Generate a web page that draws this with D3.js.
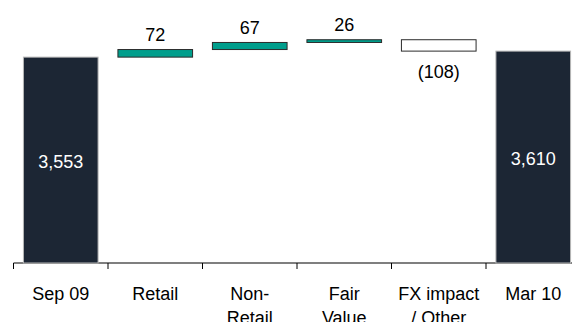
<!DOCTYPE html>
<html>
<head>
<meta charset="utf-8">
<script src="https://cdn.jsdelivr.net/npm/d3@7"></script>
<style>
  body { margin: 0; background: #fff; }
  svg { display: block; font-family: "Liberation Sans", Arial, sans-serif; }
</style>
</head>
<body>
<div id="chart"></div>
<script>
// waterfall data
const categories = ["Sep 09", "Retail", "Non-Retail", "Fair Value", "FX impact / Other", "Mar 10"];
const axisLabels = [["Sep 09"], ["Retail"], ["Non-", "Retail"], ["Fair", "Value"], ["FX impact", "/ Other"], ["Mar 10"]];
const values = [3553, 72, 67, 26, -108, 3610];
const kinds = ["total", "up", "up", "up", "down", "total"];
const valueLabels = ["3,553", "72", "67", "26", "(108)", "3,610"];

const W = 572, H = 322;
const svg = d3.select("#chart").append("svg").attr("width", W).attr("height", H);

// running totals for the floating bars
let run = 0;
const bars = categories.map((c, i) => {
    let y0, y1;
    if (kinds[i] == "total") { y0 = 1600; y1 = values[i]; run = values[i]; }
    else { y0 = run; y1 = run + values[i]; run = y1; }
    return {cat: c, kind: kinds[i], lo: Math.min(y0, y1), hi: Math.max(y0, y1), label: valueLabels[i]};
});

const yScale = d3.scaleLinear().domain([1600, 4000]).range([263, 10]);

const x0 = 13.5, step = 94.5;
const xAxis = d3.scaleBand().domain(categories).range([x0, x0 + 6 * step]);
const xBar = d3.scaleBand().domain(categories).range([x0, x0 + 6 * step]).paddingInner(0.21).paddingOuter(0.105);

const fills = {total: "#1c2634", up: "#009e8c", down: "#ffffff"};
const strokes = {total: "#b8b8b8", up: "#2b2b2b", down: "#2b2b2b"};

// axis line + ticks (drawn first, the last bar sits over it)
const axisG = svg.append("g");
axisG.append("line")
    .attr("x1", xAxis.range()[0]).attr("x2", xAxis.range()[1])
    .attr("y1", yScale(1600)).attr("y2", yScale(1600))
    .attr("stroke", "#000").attr("stroke-width", 1.2);
axisG.selectAll(".tick")
    .data(categories.concat(["end"]))
    .enter().append("line")
    .attr("x1", (d, i) => x0 + i * xAxis.step())
    .attr("x2", (d, i) => x0 + i * xAxis.step())
    .attr("y1", yScale(1600)).attr("y2", yScale(1600) + 6)
    .attr("stroke", "#000").attr("stroke-width", 1);

svg.selectAll(".bar")
    .data(bars)
    .enter().append("rect")
    .attr("class", "bar")
    .attr("x", d => xBar(d.cat))
    .attr("width", xBar.bandwidth())
    .attr("y", d => yScale(d.hi))
    .attr("height", d => yScale(d.lo) - yScale(d.hi))
    .attr("fill", d => fills[d.kind])
    .attr("stroke", d => strokes[d.kind])
    .attr("stroke-width", 1);

// value labels
svg.selectAll(".val")
    .data(bars)
    .enter().append("text")
    .attr("class", "val")
    .attr("x", d => xBar(d.cat) + xBar.bandwidth() / 2)
    .attr("y", d => {
        if (d.kind == "total") return (yScale(d.lo) + yScale(d.hi)) / 2 + 8;
        if (d.kind == "down") return yScale(d.lo) + 27;
        return yScale(d.hi) - 8.5;
    })
    .attr("text-anchor", "middle")
    .attr("font-size", 18)
    .attr("fill", d => d.kind == "total" ? "#fff" : "#000")
    .text(d => d.label);

// category labels, some on two lines
const cats = svg.selectAll(".cat")
    .data(categories)
    .enter().append("text")
    .attr("class", "cat")
    .attr("x", d => xAxis(d) + xAxis.bandwidth() / 2)
    .attr("y", 300)
    .attr("text-anchor", "middle")
    .attr("font-size", 18)
    .attr("fill", "#000");
cats.selectAll("tspan")
    .data((d, i) => axisLabels[i])
    .enter().append("tspan")
    .attr("x", function() { return d3.select(this.parentNode).attr("x"); })
    .attr("dy", (d, i) => i == 0 ? 0 : 23.5)
    .text(d => d);
</script>
</body>
</html>
